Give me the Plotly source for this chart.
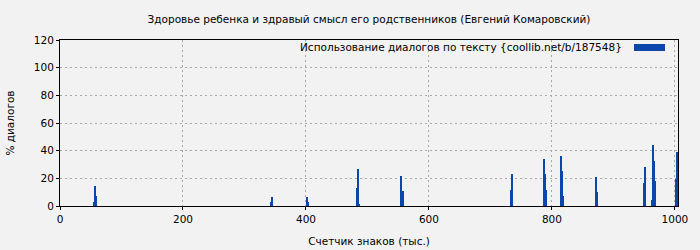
import plotly.graph_objects as go

# Data (x: thousands of characters, y: % dialogues)
positions = [54.5, 56.1, 57.7, 59.3,
             343.9, 345.5,
             402.4, 404.1,
             483.7, 485.4, 487.0,
             555.3, 557.0,
             734.1, 735.8,
             787.8, 789.4, 791.1,
             815.4, 817.1, 818.7,
             872.4, 874.0,
             950.4, 952.0,
             963.4, 965.0, 966.7, 968.3,
             1002.4, 1004.1]
percent = [3, 7.2, 14.5, 7.2,
           3, 6.5,
           6.5, 3,
           13, 26.8, 1,
           21.7, 10.8,
           11.6, 23.1,
           34, 23.1, 11.6,
           36, 25, 7,
           21, 10,
           16.6, 28.2,
           4.3, 44, 32.5, 18,
           19.5, 39]
bin_width = 1.626

title_text = "Здоровье ребенка и здравый смысл его родственников (Евгений Комаровский)"
series_name = "Использование диалогов по тексту {coollib.net/b/187548}"
x_title = "Счетчик знаков (тыс.)"
y_title = "% диалогов"
x_ticks = [0, 200, 400, 600, 800, 1000]
y_ticks = [0, 20, 40, 60, 80, 100, 120]

bar_color = "#0b46ad"
bg = "#f2f2f2"
font_family = "DejaVu Sans"
fs = 10.5

fig = go.Figure()
fig.add_trace(go.Bar(
    x=positions, y=percent, width=[bin_width] * len(positions),
    marker=dict(color=bar_color, line=dict(width=0)),
    name=series_name, showlegend=False,
))

fig.update_layout(
    width=700, height=250,
    margin=dict(l=60, r=22, t=40, b=44),
    paper_bgcolor=bg, plot_bgcolor=bg,
    font=dict(family=font_family, size=fs, color="#000000"),
    title=dict(text=title_text, x=(60 + 678) / 2 / 700, xanchor="center",
               y=1 - 19 / 250, yanchor="middle",
               font=dict(size=fs, family=font_family, color="#000000")),
    bargap=0,
    showlegend=False,
)

fig.update_xaxes(
    range=[0, 1005], tickvals=x_ticks, ticktext=[str(v) for v in x_ticks],
    showgrid=True, gridcolor="#a8a8a8", griddash="2px,3px", gridwidth=1,
    showline=True, linecolor="#000000", linewidth=1, mirror=True,
    ticks="outside", ticklen=3, tickcolor="#000000",
    zeroline=False, automargin=False,
    title=dict(text=x_title, font=dict(size=fs), standoff=14),
    tickfont=dict(size=fs),
)
fig.update_yaxes(
    range=[0, 120], tickvals=y_ticks, ticktext=[str(v) for v in y_ticks],
    showgrid=True, gridcolor="#a8a8a8", griddash="2px,3px", gridwidth=1,
    showline=True, linecolor="#000000", linewidth=1, mirror=True,
    ticks="outside", ticklen=3, tickcolor="#000000",
    zeroline=False, automargin=False,
    title=dict(text=y_title, font=dict(size=fs), standoff=17),
    tickfont=dict(size=fs),
)

# Legend box (text + swatch on the right), covering gridlines at the top
fig.add_shape(type="rect", xref="paper", yref="paper",
              x0=0.001, x1=0.999, y0=1 - 13 / 166, y1=0.997,
              fillcolor=bg, line=dict(width=0), layer="between")
fig.add_annotation(text=series_name, xref="paper", yref="paper",
                   x=(624 - 60) / 618, y=1 - 7 / 166, xanchor="right", yanchor="middle",
                   showarrow=False, font=dict(size=fs, family=font_family, color="#000000"))
fig.add_shape(type="rect", xref="paper", yref="paper",
              x0=(634 - 60) / 618, x1=(665 - 60) / 618,
              y0=1 - 11 / 166, y1=1 - 4 / 166,
              fillcolor=bar_color, line=dict(width=0), layer="above")

fig.write_html("out.html")
